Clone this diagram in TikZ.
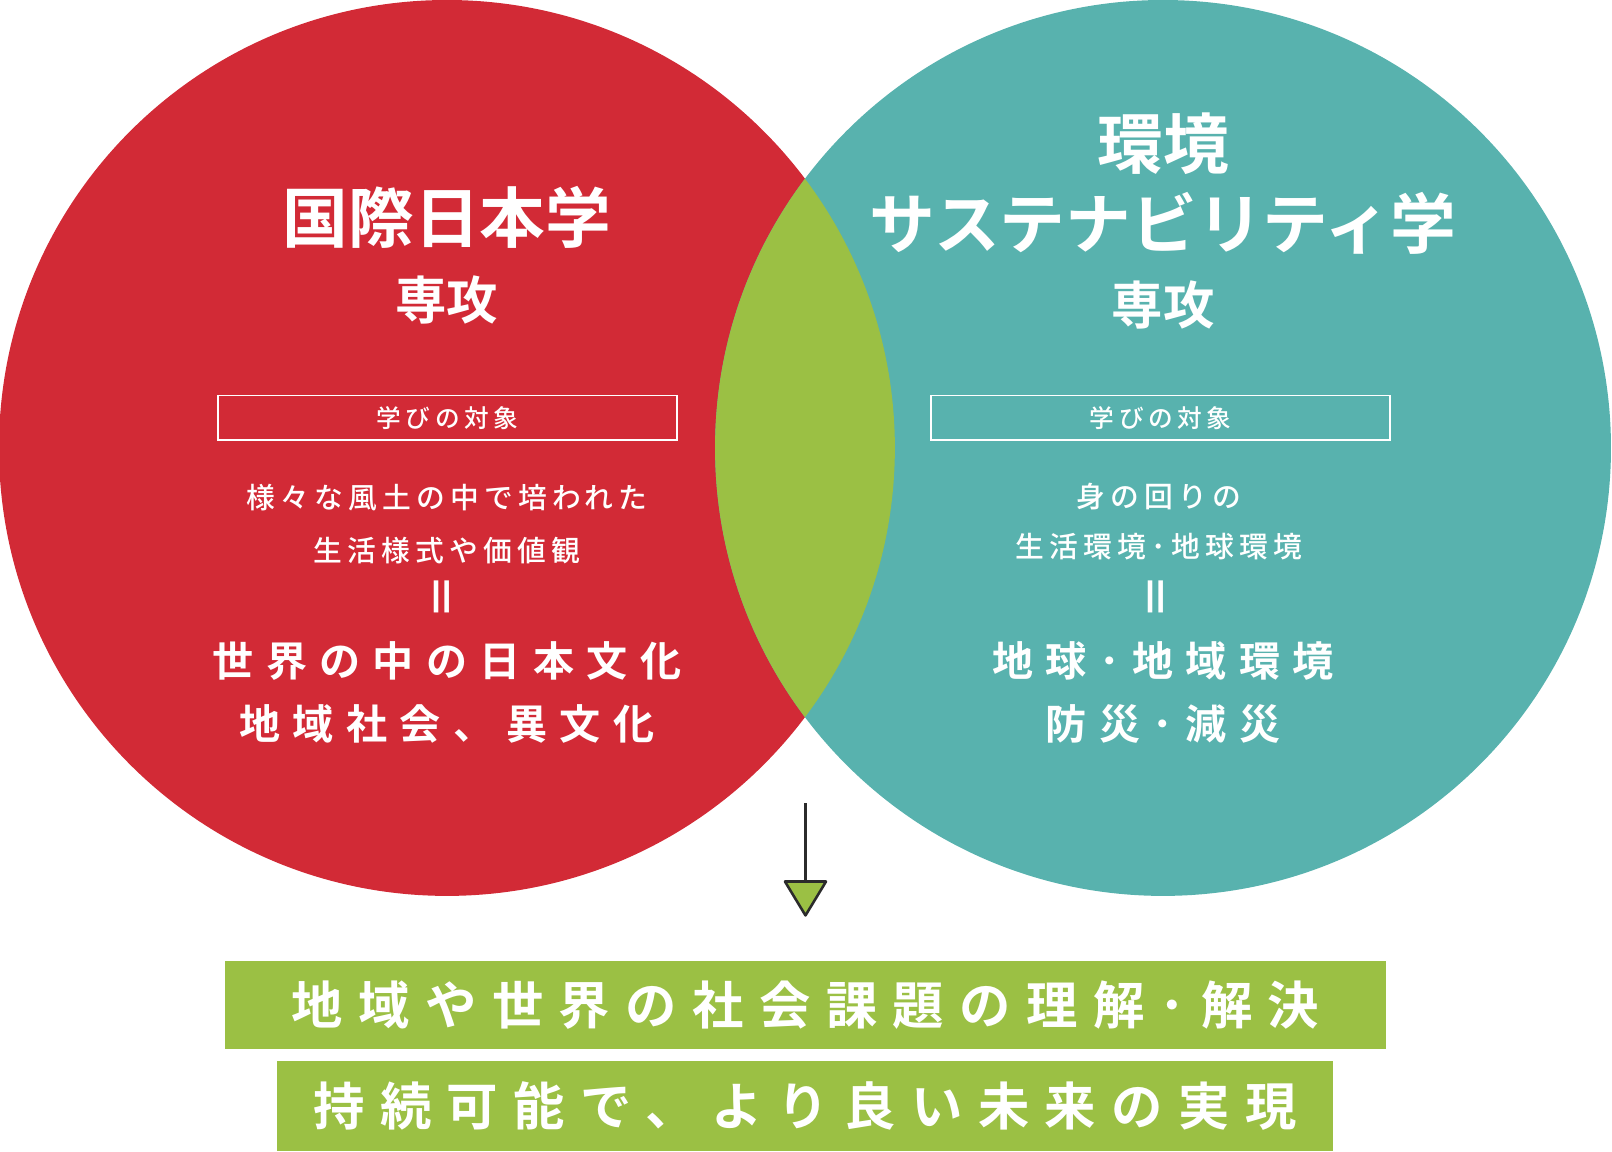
\documentclass[tikz,border=0pt]{standalone}
\usepackage{fontspec}
\newfontfamily\jp[BoldFont={Noto Sans CJK JP Bold}]{Noto Sans CJK JP Medium}
\newfontfamily\jpsp[LetterSpace=18]{Noto Sans CJK JP Medium}
\newfontfamily\jpbsp[LetterSpace=30]{Noto Sans CJK JP Bold}
\definecolor{cred}{HTML}{D22A36}
\definecolor{cteal}{HTML}{58B2AE}
\definecolor{cgreen}{HTML}{9BC044}
\definecolor{cdark}{HTML}{2B2B2B}
\begin{document}
\begin{tikzpicture}[x=1pt,y=-1pt,
  txt/.style={text=white,font=\jp,align=center,inner sep=0},
  label/.style={draw=white,line width=1.5pt,minimum width=447pt,minimum height=43pt,text=white,font=\jpsp\fontsize{24}{26}\selectfont,inner sep=0},
  gbox/.style={fill=cgreen,text=white,inner sep=0,font=\jpbsp\fontsize{50}{52}\selectfont}]
\fill[cred] (435,436) circle (436);
\fill[cteal] (1132,436) circle (436);
\begin{scope}
\clip (435,436) circle (436);
\fill[cgreen] (1132,436) circle (436);
\end{scope}
% left
\node[txt,font=\jp\bfseries\fontsize{64}{66}\selectfont] (lt) at (435,212) {国際日本学};
\node[txt,font=\jp\bfseries\fontsize{50}{52}\selectfont] (ls) at (435,292) {専攻};
\node[label] (lb) at (435.5,406.5) {学びの対象};
\node[txt,font=\jpsp\fontsize{28}{30}\selectfont] (l1) at (435,484) {様々な風土の中で培われた};
\node[txt,font=\jpsp\fontsize{28}{30}\selectfont] (l2) at (435,536) {生活様式や価値観};
\node[txt,font=\jp\bfseries\fontsize{44}{44}\selectfont,rotate=90] (le) at (435,581) {＝};
\node[txt,font=\jpbsp\fontsize{40}{42}\selectfont] (l3) at (435,643) {世界の中の日本文化};
\node[txt,font=\jpbsp\fontsize{40}{42}\selectfont] (l4) at (435,705) {地域社会、異文化};
% right
\node[txt,font=\jp\bfseries\fontsize{64}{66}\selectfont] (rt1) at (1132,140) {環境};
\node[txt,font=\jp\bfseries\fontsize{64}{66}\selectfont] (rt2) at (1132,217) {サステナビリティ学};
\node[txt,font=\jp\bfseries\fontsize{50}{52}\selectfont] (rs) at (1132,297) {専攻};
\node[label] (rb) at (1129.5,406.5) {学びの対象};
\node[txt,font=\jpsp\fontsize{28}{30}\selectfont] (r1) at (1128,483) {身の回りの};
\node[txt,font=\jpsp\fontsize{28}{30}\selectfont] (r2) at (1128,532) {生活環境･地球環境};
\node[txt,font=\jp\bfseries\fontsize{44}{44}\selectfont,rotate=90] (re) at (1130,581) {＝};
\node[txt,font=\jpbsp\fontsize{40}{42}\selectfont] (r3) at (1132,643) {地球･地域環境};
\node[txt,font=\jpbsp\fontsize{40}{42}\selectfont] (r4) at (1132,705) {防災･減災};
% arrow
\coordinate (a1) at (784,782);
\coordinate (a2) at (784,858);
\draw[cdark,line width=2.5pt] (a1) -- (a2);
\filldraw[fill=cgreen,draw=cdark,line width=2.5pt,line join=round] (764,858) -- (804,858) -- (784,891) -- cycle;
% boxes
\node[gbox,minimum width=1130pt,minimum height=86pt] (b1) at (784,978) {地域や世界の社会課題の理解･解決};
\node[gbox,minimum width=1027pt,minimum height=87pt] (b2) at (783.5,1076.5) {持続可能で、より良い未来の実現};
\pgfresetboundingbox
\useasboundingbox (0,0) rectangle (1569,1121);
\end{tikzpicture}
\end{document}
